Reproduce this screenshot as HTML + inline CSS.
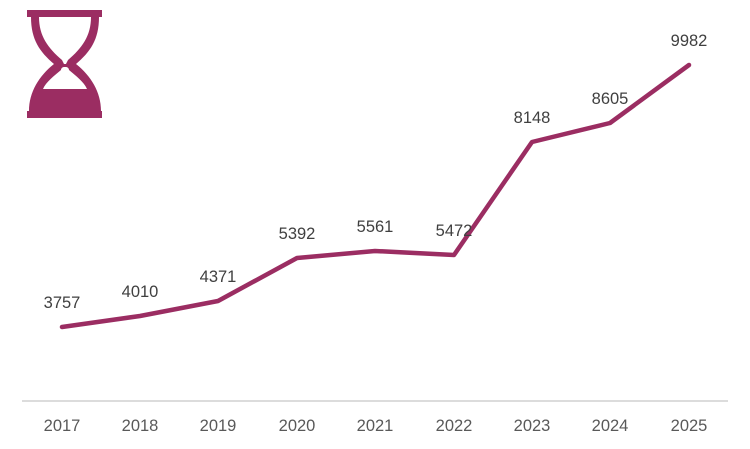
<!DOCTYPE html>
<html><head><style>body{margin:0;background:#fff}svg{display:block}</style></head><body>
<svg width="750" height="449" xmlns="http://www.w3.org/2000/svg" font-family="Liberation Sans, sans-serif">
<rect width="750" height="449" fill="#fff"/>
<g fill="#9b2d62">
<rect x="27" y="10" width="75" height="7"/>
<rect x="27" y="111" width="75" height="7"/>
<path d="M31 17 H99 C99 40 90 52 76 64 C91 76 101 92 101 111 H29 C29 92 39 76 54 64 C40 52 31 40 31 17 Z"/>
</g>
<g fill="#fff">
<path d="M39 17 H91 C91 36 82 48 68 60 C67 62 66 64 66 64 H64 C64 64 63 62 62 60 C48 48 39 36 39 17 Z"/>
<path d="M61 70 C61 68 63 67 64 67 H66 C67 67 69 68 69 70 C76 76 84 82 87 89 H43 C46 82 54 76 61 70 Z"/>
</g>
<line x1="22" y1="401" x2="728" y2="401" stroke="#d0d0d0" stroke-width="1.5"/>
<polyline fill="none" stroke="#9b2d62" stroke-width="4.5" stroke-linejoin="round" stroke-linecap="round" points="62,327 140,316 218,301 297,258 375,251 454,255 532,142 610,123 689,65"/>
<g font-size="16.5" fill="#404040" text-anchor="middle">
<text x="62" y="308">3757</text><text x="140" y="297">4010</text><text x="218" y="282">4371</text>
<text x="297" y="239">5392</text><text x="375" y="232">5561</text><text x="454" y="236">5472</text>
<text x="532" y="123">8148</text><text x="610" y="104">8605</text><text x="689" y="46">9982</text>
</g>
<g font-size="16.5" fill="#595959" text-anchor="middle">
<text x="62" y="431">2017</text><text x="140" y="431">2018</text><text x="218" y="431">2019</text>
<text x="297" y="431">2020</text><text x="375" y="431">2021</text><text x="454" y="431">2022</text>
<text x="532" y="431">2023</text><text x="610" y="431">2024</text><text x="689" y="431">2025</text>
</g>
</svg>
</body></html>
